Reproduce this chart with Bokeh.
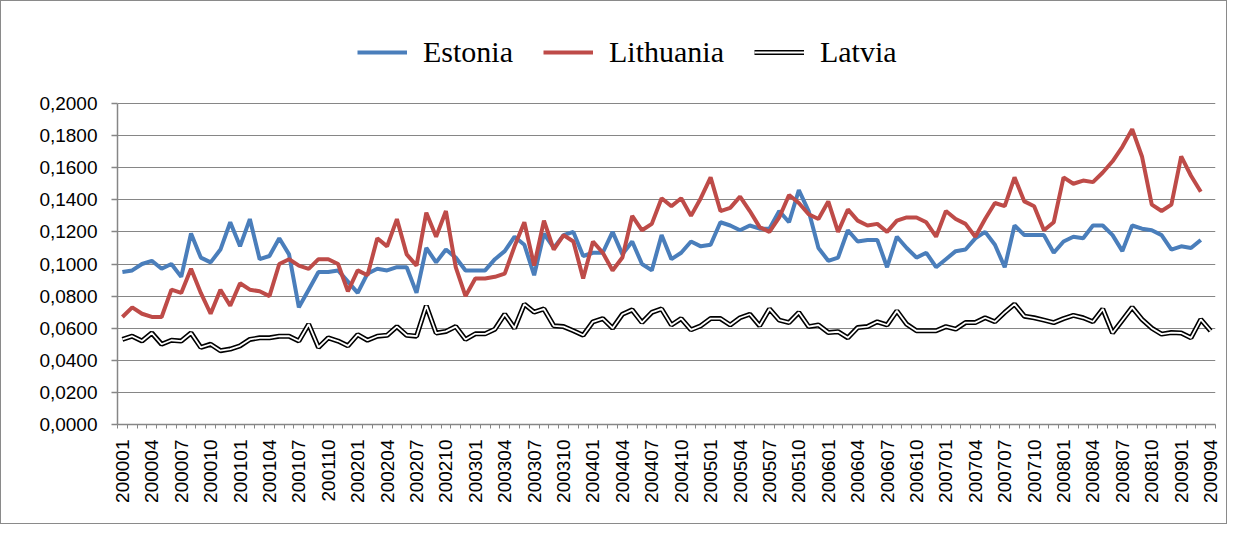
import numpy as np
from bokeh.plotting import figure
from bokeh.models import FixedTicker, Legend, LegendItem, Range1d
from bokeh.embed import file_html
from bokeh.resources import INLINE

# tick labels (every third month, 2000-01 .. 2009-04)
x_tick_labels = ["200001", "200004", "200007", "200010", "200101", "200104", "200107", "200110",
                 "200201", "200204", "200207", "200210", "200301", "200304", "200307", "200310",
                 "200401", "200404", "200407", "200410", "200501", "200504", "200507", "200510",
                 "200601", "200604", "200607", "200610", "200701", "200704", "200707", "200710",
                 "200801", "200804", "200807", "200810", "200901", "200904"]
y_ticks = [0.0, 0.02, 0.04, 0.06, 0.08, 0.10, 0.12, 0.14, 0.16, 0.18, 0.20]
y_tick_labels = ["0,0000", "0,0200", "0,0400", "0,0600", "0,0800", "0,1000",
                 "0,1200", "0,1400", "0,1600", "0,1800", "0,2000"]
n_months = 112

estonia = [0.095, 0.096, 0.100, 0.102, 0.097, 0.100, 0.092, 0.119, 0.104, 0.101,
           0.109, 0.126, 0.111, 0.128, 0.103, 0.105, 0.116, 0.106, 0.073, 0.084,
           0.095, 0.095, 0.096, 0.089, 0.082, 0.094, 0.097, 0.096, 0.098, 0.098,
           0.082, 0.110, 0.101, 0.109, 0.104, 0.096, 0.096, 0.096, 0.103, 0.108,
           0.117, 0.112, 0.093, 0.119, 0.110, 0.118, 0.120, 0.105, 0.107, 0.107,
           0.120, 0.106, 0.114, 0.100, 0.096, 0.118, 0.103, 0.107, 0.114, 0.111,
           0.112, 0.126, 0.124, 0.121, 0.124, 0.122, 0.122, 0.133, 0.126, 0.146,
           0.133, 0.110, 0.102, 0.104, 0.121, 0.114, 0.115, 0.115, 0.098, 0.117,
           0.110, 0.104, 0.107, 0.098, 0.103, 0.108, 0.109, 0.116, 0.120, 0.112,
           0.098, 0.124, 0.118, 0.118, 0.118, 0.107, 0.114, 0.117, 0.116, 0.124,
           0.124, 0.118, 0.108, 0.124, 0.122, 0.121, 0.118, 0.109, 0.111, 0.110,
           0.115]

lithuania = [0.067, 0.073, 0.069, 0.067, 0.067, 0.084, 0.082, 0.097, 0.082, 0.069,
             0.084, 0.074, 0.088, 0.084, 0.083, 0.080, 0.100, 0.103, 0.099, 0.097,
             0.103, 0.103, 0.100, 0.083, 0.096, 0.093, 0.116, 0.111, 0.128, 0.106,
             0.099, 0.132, 0.117, 0.133, 0.098, 0.080, 0.091, 0.091, 0.092, 0.094,
             0.111, 0.126, 0.099, 0.127, 0.109, 0.118, 0.114, 0.091, 0.114, 0.107,
             0.096, 0.104, 0.130, 0.121, 0.125, 0.141, 0.136, 0.141, 0.130, 0.141,
             0.154, 0.133, 0.135, 0.142, 0.133, 0.123, 0.120, 0.129, 0.143, 0.138,
             0.131, 0.128, 0.139, 0.120, 0.134, 0.127, 0.124, 0.125, 0.120, 0.127,
             0.129, 0.129, 0.126, 0.117, 0.133, 0.128, 0.125, 0.117, 0.128, 0.138,
             0.136, 0.154, 0.139, 0.136, 0.121, 0.126, 0.154, 0.150, 0.152, 0.151,
             0.157, 0.164, 0.173, 0.184, 0.167, 0.137, 0.133, 0.137, 0.167, 0.155,
             0.145]

latvia = [0.053, 0.055, 0.052, 0.057, 0.050, 0.0525, 0.052, 0.057, 0.048, 0.050,
          0.046, 0.047, 0.049, 0.053, 0.054, 0.054, 0.055, 0.055, 0.052, 0.0625,
          0.048, 0.054, 0.052, 0.049, 0.056, 0.0525, 0.055, 0.0556, 0.061, 0.0556,
          0.055, 0.074, 0.057, 0.058, 0.061, 0.053, 0.0565, 0.0565, 0.0594, 0.0687,
          0.060, 0.075, 0.070, 0.072, 0.0615, 0.061, 0.0584, 0.0556, 0.064, 0.066,
          0.060, 0.0687, 0.0714, 0.0635, 0.0698, 0.072, 0.062, 0.066, 0.059, 0.0615,
          0.066, 0.066, 0.062, 0.0665, 0.0687, 0.0615, 0.072, 0.065, 0.0635, 0.0698,
          0.061, 0.062, 0.0573, 0.0578, 0.054, 0.0604, 0.061, 0.064, 0.062, 0.0708,
          0.0625, 0.0584, 0.0584, 0.0584, 0.061, 0.0594, 0.0635, 0.0635, 0.0665, 0.064,
          0.0698, 0.075, 0.0675, 0.0665, 0.065, 0.0635, 0.066, 0.068, 0.0665, 0.064,
          0.072, 0.057, 0.065, 0.073, 0.0655, 0.060, 0.0563, 0.0573, 0.057, 0.054,
          0.0655, 0.0584]

BLUE = "#4A7EBB"
RED = "#BE4B48"
GRID = "#868686"

# frame reaches up to the top so the legend can sit inside it; 0.2 stays at the same pixel
FRAME_H = 413
Y_TOP = 0.2 * FRAME_H / 321.0

p = figure(width=1227, height=524, output_backend="svg", toolbar_location=None,
           x_range=Range1d(0, n_months), y_range=Range1d(0, Y_TOP),
           min_border_left=116, min_border_right=13, min_border_top=10, min_border_bottom=101)
p.outline_line_color = None
p.background_fill_color = "white"
p.border_fill_color = "white"
p.styles = {"border": "1px solid #8a8a8a"}

x_e = np.arange(len(estonia)) + 0.5
x_l = np.arange(len(lithuania)) + 0.5
x_v = np.arange(len(latvia)) + 0.5

r_e = p.line(x_e, estonia, line_color=BLUE, line_width=4)
r_l = p.line(x_l, lithuania, line_color=RED, line_width=4)
r_v1 = p.line(x_v, latvia, line_color="black", line_width=5)
r_v2 = p.line(x_v, latvia, line_color="white", line_width=1.8)

# y axis
p.yaxis.ticker = FixedTicker(ticks=y_ticks)
p.yaxis.bounds = (0, 0.2)
p.yaxis.major_label_overrides = {t: s for t, s in zip(y_ticks, y_tick_labels)}
p.yaxis.axis_line_color = GRID
p.yaxis.axis_line_width = 1.5
p.yaxis.major_tick_line_color = GRID
p.yaxis.major_tick_line_width = 1.5
p.yaxis.major_tick_out = 6
p.yaxis.major_tick_in = 0
p.yaxis.minor_tick_line_color = None
p.yaxis.major_label_text_font = "Liberation Sans"
p.yaxis.major_label_text_font_size = "19px"
p.yaxis.major_label_text_color = "black"
p.yaxis.major_label_standoff = 14

# x axis
x_label_pos = [float(i) + 0.5 for i in range(0, n_months, 3)]
p.xaxis.ticker = FixedTicker(ticks=x_label_pos, minor_ticks=list(range(0, n_months + 1)))
p.xaxis.major_label_overrides = {t: s for t, s in zip(x_label_pos, x_tick_labels)}
p.xaxis.major_label_orientation = np.pi / 2
p.xaxis.axis_line_color = GRID
p.xaxis.axis_line_width = 1.5
p.xaxis.major_tick_line_color = None
p.xaxis.minor_tick_line_color = GRID
p.xaxis.minor_tick_line_width = 1
p.xaxis.minor_tick_out = 4
p.xaxis.minor_tick_in = 0
p.xaxis.major_label_text_font = "Liberation Sans"
p.xaxis.major_label_text_font_size = "19px"
p.xaxis.major_label_text_color = "black"
p.xaxis.major_label_standoff = 9

p.xgrid.grid_line_color = None
p.ygrid.ticker = FixedTicker(ticks=y_ticks)
p.ygrid.grid_line_color = GRID
p.ygrid.grid_line_width = 1

legend = Legend(items=[LegendItem(label="Estonia", renderers=[r_e]),
                       LegendItem(label="Lithuania", renderers=[r_l]),
                       LegendItem(label="Latvia", renderers=[r_v1, r_v2])],
                orientation="horizontal", location=(240, 354),
                label_text_font="Liberation Serif", label_text_font_size="30px",
                label_text_color="black", glyph_width=50, glyph_height=36,
                label_height=36, label_standoff=16, spacing=30, padding=0, margin=0,
                border_line_color=None, background_fill_alpha=0)
p.add_layout(legend)

open("out.html", "w").write(file_html(p, INLINE))
